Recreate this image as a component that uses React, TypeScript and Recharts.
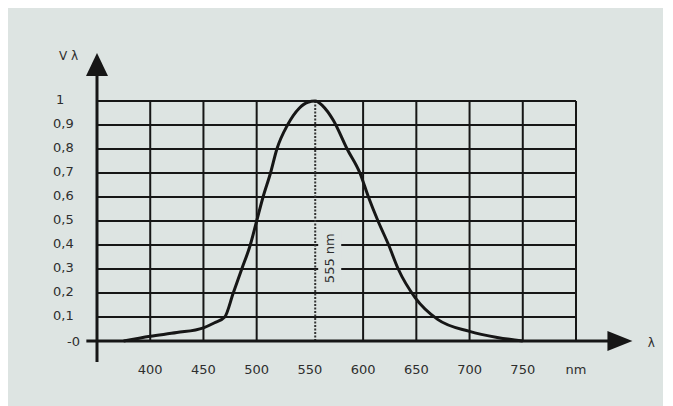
import { LineChart, Line, XAxis, YAxis, CartesianGrid, ReferenceLine } from 'recharts';

// relative luminous efficiency V(lambda)
const wavelengths = [375, 400, 425, 450, 460, 470, 478, 486, 494, 500, 506, 513, 519, 529, 540, 548, 555, 562, 572, 585, 597, 605, 614, 624, 633, 649, 670, 700, 726, 750];
const sensitivity = [0, 0.02, 0.035, 0.055, 0.075, 0.1, 0.2, 0.3, 0.4, 0.5, 0.6, 0.7, 0.8, 0.9, 0.97, 0.995, 1, 0.98, 0.92, 0.8, 0.7, 0.6, 0.5, 0.4, 0.3, 0.18, 0.09, 0.04, 0.015, 0];

const xTicks = [400, 450, 500, 550, 600, 650, 700, 750, 800];
const yTicks = [0, 0.1, 0.2, 0.3, 0.4, 0.5, 0.6, 0.7, 0.8, 0.9, 1];
const gridX = [400, 450, 500, 600, 650, 700, 750, 800];
const peakNm = 555;

const data = wavelengths.map((nm, i) => ({ nm, v: sensitivity[i] }));

const INK = '#161616';
const TEXT = '#2e2e2e';
const FONT = '"DejaVu Sans", sans-serif';

const XTick = ({ x, y, payload }: any) => (
  <text x={x} y={y + 28} textAnchor="middle" dominantBaseline="central" fontFamily={FONT} fontSize={13} fill={TEXT}>
    {payload.value === 800 ? 'nm' : payload.value}
  </text>
);

const YTick = ({ x, y, payload }: any) => {
  const v = payload.value;
  if (v === 0) {
    return (
      <text x={x - 17} y={y} textAnchor="end" dominantBaseline="central" fontFamily={FONT} fontSize={13} fill={TEXT}>-0</text>
    );
  }
  const label = v === 1 ? '1' : v.toFixed(1).replace('.', ',');
  return (
    <text x={x - (v === 1 ? 41 : 44)} y={y - 2} textAnchor="start" dominantBaseline="central" fontFamily={FONT} fontSize={13} fill={TEXT}>
      {label}
    </text>
  );
};

const YArrow = ({ x1, y1, x2, y2 }: any) => (
  <g>
    <line x1={x1} y1={y1} x2={x2} y2={y2 + 18} stroke={INK} strokeWidth={3} />
    <polygon points={`${x2},${y2} ${x2 - 11},${y2 + 23} ${x2 + 11},${y2 + 23}`} fill={INK} />
    <text x={x2 - 19} y={y2 + 3} textAnchor="end" dominantBaseline="central" fontFamily={FONT} fontSize={12} fill={TEXT}>V λ</text>
  </g>
);

const XArrow = ({ x1, y1, x2, y2 }: any) => (
  <g>
    <line x1={x1} y1={y1} x2={x2 - 20} y2={y2} stroke={INK} strokeWidth={3} />
    <polygon points={`${x2},${y2} ${x2 - 25},${y2 - 10} ${x2 - 25},${y2 + 10}`} fill={INK} />
    <text x={x2 + 19} y={y2 + 2} textAnchor="middle" dominantBaseline="central" fontFamily={FONT} fontSize={12} fill={TEXT}>λ</text>
  </g>
);

const PeakLabel = ({ viewBox }: any) => {
  const cx = viewBox.x + 14;
  const cy = viewBox.y + viewBox.height * 0.655;
  return (
    <g>
      <rect x={viewBox.x + 3} y={cy - 28} width={23} height={56} fill="#dde4e2" />
      <text x={cx} y={cy} transform={`rotate(-90 ${cx} ${cy})`} textAnchor="middle" dominantBaseline="central" fontFamily={FONT} fontSize={13} fill={TEXT}>
        {peakNm} nm
      </text>
    </g>
  );
};

export default function App() {
  return (
    <div style={{ width: 655, height: 398, background: '#dde4e2' }}>
      <LineChart width={655} height={398} data={data} margin={{ top: 93, right: 87, bottom: 35, left: 29 }}>
        <CartesianGrid vertical={false} stroke={INK} strokeWidth={2} />
        <XAxis
          dataKey="nm"
          type="number"
          domain={[350, 800]}
          ticks={xTicks}
          height={30}
          axisLine={false}
          tickLine={false}
          tickSize={0}
          tickMargin={0}
          tick={<XTick />}
          interval={0}
        />
        <YAxis
          type="number"
          domain={[0, 1]}
          ticks={yTicks}
          width={60}
          axisLine={false}
          tickLine={false}
          tickSize={0}
          tickMargin={0}
          tick={<YTick />}
          interval={0}
        />
        {gridX.map((g) => (
          <ReferenceLine key={g} x={g} stroke={INK} strokeWidth={2} />
        ))}
        <ReferenceLine x={peakNm} stroke="#333" strokeWidth={2} strokeDasharray="2 1.5" label={<PeakLabel />} />
        <ReferenceLine segment={[{ x: 350, y: -0.0875 }, { x: 350, y: 1.2 }]} ifOverflow="visible" shape={<YArrow />} />
        <ReferenceLine segment={[{ x: 340, y: 0 }, { x: 853, y: 0 }]} ifOverflow="visible" shape={<XArrow />} />
        <Line
          type="monotone"
          dataKey="v"
          stroke={INK}
          strokeWidth={3}
          dot={false}
          isAnimationActive={false}
        />
      </LineChart>
    </div>
  );
}
